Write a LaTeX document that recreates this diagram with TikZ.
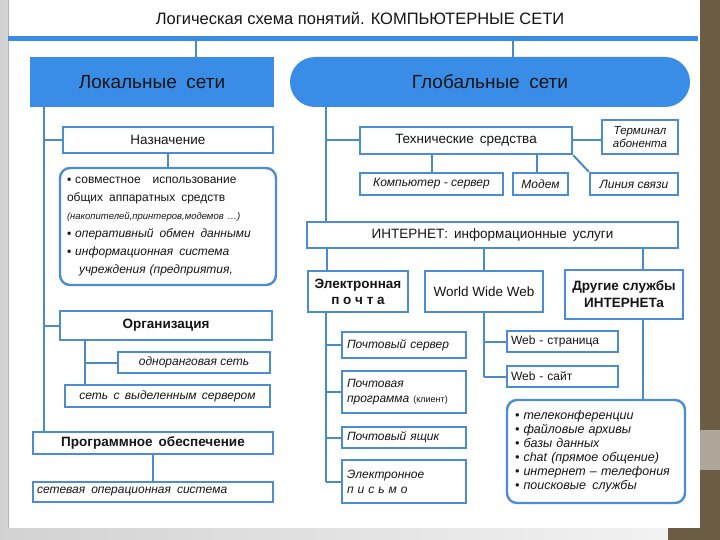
\documentclass[tikz,border=0pt]{standalone}
\usepackage{fontspec}
\setmainfont{Liberation Sans}
\definecolor{netblue}{HTML}{3A8DE6}
\definecolor{rimblue}{HTML}{4A8DD2}
\definecolor{wireblue}{HTML}{4A8BC6}
\definecolor{inkdark}{HTML}{151515}
\definecolor{olivestrip}{HTML}{6B5D44}
\begin{document}
\begin{tikzpicture}[x=1pt,y=-1pt,
  box/.style={draw=rimblue,line width=2.4pt,fill=white,inner sep=0pt,text=inkdark,
    font=\fontsize{13.5}{15}\selectfont},
  note/.style={box,font=\fontsize{12}{14}\selectfont\itshape},
  head/.style={fill=netblue,inner sep=0pt,text=inkdark,font=\fontsize{19}{21}\selectfont},
  link/.style={draw=wireblue,line width=2pt}]
  \useasboundingbox (0,0) rectangle (720,540);
  \shade[left color=gray!35,right color=gray!8] (0,0) rectangle (720,540);
  \fill[olivestrip] (700,0) rectangle (720,540);
  \fill[olivestrip!55!white] (700,430) rectangle (720,470);
  \fill[olivestrip] (668,528) rectangle (720,540);
  \fill[white] (8,0) rectangle (700,528);
  \draw[gray!60,line width=.8pt] (8.5,0) -- (8.5,528);

  \node[text=inkdark,font=\fontsize{16.5}{18}\selectfont] (title) at (360,18)
    {Логическая схема понятий. КОМПЬЮТЕРНЫЕ СЕТИ};
  \coordinate (barL) at (8,38.5);
  \coordinate (barR) at (698,38.5);
  \draw[netblue,line width=4.5pt] (barL) -- (barR);

  \node[head,minimum width=244pt,minimum height=50pt] (lok) at (152,82) {Локальные\enspace сети};
  \node[head,rounded corners=25pt,minimum width=400pt,minimum height=50pt] (glob) at (490,82)
    {Глобальные\enspace сети};

  % local networks
  \node[box,minimum width=210pt,minimum height=26pt] (naz) at (168,140) {Назначение};
  \node[box,rounded corners=10pt,minimum width=216pt,minimum height=117pt,text width=202pt,
    align=left,font=\fontsize{12}{18}\selectfont] (nazlist) at (168,226.5)
    {▪ совместное\quad использование\\
     общих\, аппаратных\, средств\\
     {\fontsize{9.5}{12}\selectfont\itshape(накопителей,принтеров,модемов \dots)}\\
     \textit{▪ оперативный\, обмен\, данными}\\
     \textit{▪ информационная\, система}\\
     \quad\textit{учреждения (предприятия,}};
  \node[box,font=\fontsize{13.5}{15}\selectfont\bfseries,minimum width=212pt,minimum height=29pt]
    (org) at (166,325.5) {Организация};
  \node[note,minimum width=152pt,minimum height=21pt] (odnor) at (194,362.5) {одноранговая сеть};
  \node[note,minimum width=205pt,minimum height=22pt] (vyd) at (167.5,396)
    {сеть\, с\, выделенным\, сервером};
  \node[box,font=\fontsize{13.5}{15}\selectfont\bfseries,minimum width=240pt,minimum height=22pt]
    (prog) at (153,443) {Программное\, обеспечение};
  \node[note,minimum width=240pt,minimum height=20pt,text width=232pt,align=left] (setos)
    at (153,492) {сетевая\, операционная\, система};

  \coordinate (lt) at (196,0);
  \coordinate (lv) at (44,0);
  \coordinate (ov) at (85,0);
  \draw[link] (lok.north -| lt) -- (lt |- barL);
  \draw[link] (lok.south -| lv) -- (prog.north -| lv);
  \draw[link] (naz.west -| lv) -- (naz.west);
  \draw[link] (org.west -| lv) -- (org.west);
  \draw[link] (naz.south) -- (nazlist.north);
  \draw[link] (org.south -| ov) -- (vyd.north -| ov);
  \draw[link] (odnor.west -| ov) -- (odnor.west);
  \draw[link] (prog.south) -- (setos.north);

  % global networks
  \node[box,minimum width=212pt,minimum height=27pt] (tech) at (466,140.5)
    {Технические\, средства};
  \node[note,minimum width=76pt,minimum height=34pt,align=center,
    font=\fontsize{11.5}{12.5}\selectfont\itshape] (term) at (640,137) {Терминал\\абонента};
  \node[note,minimum width=143pt,minimum height=22pt] (comp) at (431.5,184) {Компьютер - сервер};
  \node[note,minimum width=55pt,minimum height=22pt] (modem) at (540.5,184) {Модем};
  \node[note,minimum width=88pt,minimum height=22pt] (line) at (634,184) {Линия связи};
  \node[box,minimum width=371pt,minimum height=26pt] (inet) at (492.5,235)
    {ИНТЕРНЕТ:\, информационные\, услуги};

  \node[box,minimum width=100pt,minimum height=41pt,align=center,
    font=\fontsize{13.5}{16}\selectfont\bfseries] (email) at (358,291.5) {Электронная\\п о ч т а};
  \node[box,minimum width=118pt,minimum height=41pt] (www) at (484,291.5) {World Wide Web};
  \node[box,minimum width=118pt,minimum height=49pt,align=center,
    font=\fontsize{13.5}{17}\selectfont\bfseries] (other) at (624,294.5) {Другие службы\\ИНТЕРНЕТа};

  \node[note,minimum width=124pt,minimum height=26pt,text width=114pt,align=left] (psrv)
    at (404,345) {Почтовый сервер};
  \node[note,minimum width=124pt,minimum height=42pt,text width=114pt,align=left,
    font=\fontsize{12}{15}\selectfont\itshape] (pprog) at (404,392)
    {Почтовая\\программа {\fontsize{9}{10}\selectfont\upshape(клиент)}};
  \node[note,minimum width=124pt,minimum height=21pt,text width=114pt,align=left] (pbox)
    at (404,437.5) {Почтовый ящик};
  \node[note,minimum width=124pt,minimum height=43pt,text width=114pt,align=left,
    font=\fontsize{12}{15}\selectfont\itshape] (pletter) at (404,481.5)
    {Электронное\\п и с ь м о};
  \node[note,font=\fontsize{12}{14}\selectfont,minimum width=111pt,minimum height=21pt,
    text width=103pt,align=left] (wpage) at (562.5,341.5) {Web - страница};
  \node[note,font=\fontsize{12}{14}\selectfont,minimum width=111pt,minimum height=21pt,
    text width=103pt,align=left] (wsite) at (562.5,376.5) {Web - сайт};
  \node[box,rounded corners=10pt,minimum width=178pt,minimum height=103pt,text width=162pt,
    align=left,font=\fontsize{12.5}{14}\selectfont\itshape] (servlist) at (596,451.5)
    {• телеконференции\\
     • файловые архивы\\
     • базы данных\\
     • chat (прямое общение)\\
     • интернет -- телефония\\
     • поисковые\, службы};

  \coordinate (gt) at (513,0);
  \coordinate (gv) at (326,0);
  \coordinate (ev) at (327,0);
  \coordinate (mv) at (326,0);
  \coordinate (wv) at (484,0);
  \coordinate (dv) at (643,0);
  \coordinate (cv) at (432,0);
  \coordinate (mdv) at (537,0);
  \draw[link] (glob.north -| gt) -- (gt |- barR);
  \draw[link] (glob.south -| gv) -- (inet.north -| gv);
  \draw[link] (tech.west -| gv) -- (tech.west);
  \draw[link] (tech.east) -- (term.west |- tech.east);
  \draw[link] (tech.south -| cv) -- (comp.north -| cv);
  \draw[link] (tech.south -| mdv) -- (modem.north -| mdv);
  \draw[link] (tech.south east) -- (line.north west);
  \draw[link] (inet.south -| ev) -- (email.north -| ev);
  \draw[link] (inet.south -| wv) -- (www.north -| wv);
  \draw[link] (inet.south -| dv) -- (other.north -| dv);
  \draw[link] (email.south -| mv) -- (mv |- pletter.west);
  \foreach \n in {psrv,pprog,pbox,pletter}
    \draw[link] (\n.west -| mv) -- (\n.west);
  \draw[link] (www.south) -- (wv |- wsite.west);
  \foreach \n in {wpage,wsite}
    \draw[link] (\n.west -| wv) -- (\n.west);
  \draw[link] (other.south -| dv) -- (servlist.north -| dv);
\end{tikzpicture}
\end{document}
